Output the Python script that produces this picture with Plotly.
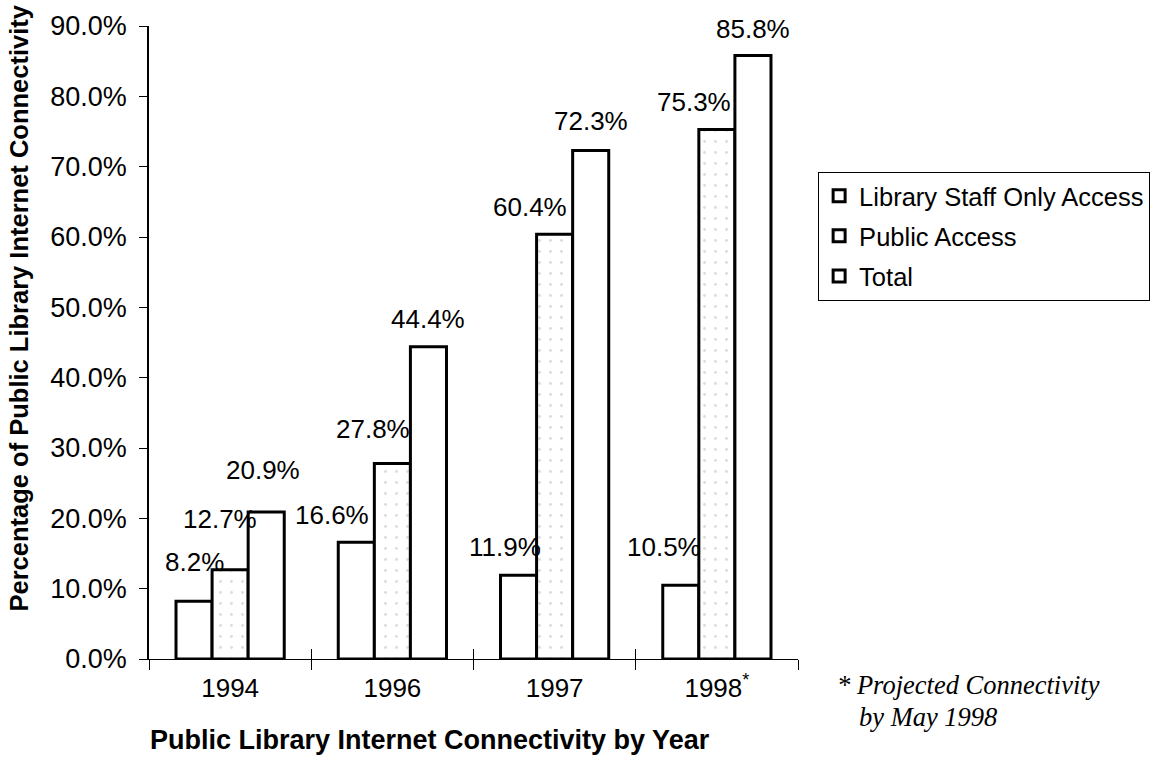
import plotly.graph_objects as go

years = ["1994", "1996", "1997", "1998<sup>*</sup>"]
staff_only = [8.2, 16.6, 11.9, 10.5]
public_access = [12.7, 27.8, 60.4, 75.3]
total = [20.9, 44.4, 72.3, 85.8]
series_names = ["Library Staff Only Access", "Public Access", "Total"]
y_ticks = [0, 10, 20, 30, 40, 50, 60, 70, 80, 90]

# label placement tweaks (pixels): horizontal shift and height above bar top
label_dx = [[0, -24, -14, -17], [-10, -19, -25, -23], [-3, 0, 0, 0]]
label_dy = [[39, 27, 28, 38], [51, 34, 27, 27], [42, 28, 29, 27]]

FONT = "Liberation Sans, Arial, sans-serif"
SERIF = "Liberation Serif, Times New Roman, serif"
BARGAP = 0.333

fig = go.Figure()
series = [staff_only, public_access, total]
for i, (name, vals) in enumerate(zip(series_names, series)):
    marker = dict(color="white", line=dict(color="black", width=3))
    if i == 1:
        marker["pattern"] = dict(shape=".", fgcolor="#b5b5b5", bgcolor="white",
                                 size=11, solidity=0.05, fillmode="overlay")
    fig.add_trace(go.Bar(x=years, y=vals, name=name, marker=marker,
                         legendgroup=f"g{i}", hoverinfo="skip"))

# invisible helper trace for crossing category ticks
fig.add_trace(go.Scatter(x=years, y=[0] * len(years), xaxis="x2", mode="markers",
                         marker=dict(opacity=0), showlegend=False, hoverinfo="skip"))

w = (1 - BARGAP) / 3
annotations = []
for i, vals in enumerate(series):
    for j, v in enumerate(vals):
        annotations.append(dict(
            x=j + (i - 1) * w, y=v, xref="x", yref="y",
            text=f"{v:.1f}%", showarrow=False,
            xanchor="center", yanchor="middle",
            xshift=label_dx[i][j], yshift=label_dy[i][j],
            font=dict(family=FONT, size=26, color="black")))

# y-axis title
annotations.append(dict(
    x=0, y=0.5, xref="paper", yref="paper", xshift=-131, yshift=34,
    text="<b>Percentage of Public Library Internet Connectivity</b>",
    textangle=-90, showarrow=False, xanchor="center", yanchor="middle",
    font=dict(family=FONT, size=25.5, color="black")))

# x-axis title
annotations.append(dict(
    x=0.433, y=0, xref="paper", yref="paper", yshift=-81,
    text="<b>Public Library Internet Connectivity by Year</b>",
    showarrow=False, xanchor="center", yanchor="middle",
    font=dict(family=FONT, size=27, color="black")))

# footnote
annotations.append(dict(
    x=1, y=0, xref="paper", yref="paper", xshift=37, yshift=-26,
    text="<i>* Projected Connectivity</i>", showarrow=False,
    xanchor="left", yanchor="middle",
    font=dict(family=SERIF, size=26.5, color="black")))
annotations.append(dict(
    x=1, y=0, xref="paper", yref="paper", xshift=59, yshift=-58,
    text="<i>by May 1998</i>", showarrow=False,
    xanchor="left", yanchor="middle",
    font=dict(family=SERIF, size=26.5, color="black")))

fig.update_layout(
    width=1155, height=760,
    margin=dict(l=149, r=357, t=26, b=101, autoexpand=False),
    paper_bgcolor="white", plot_bgcolor="white",
    barmode="group", bargap=BARGAP, bargroupgap=0,
    font=dict(family=FONT, size=25, color="black"),
    showlegend=True,
    legend=dict(x=1.031, y=0.77, xanchor="left", yanchor="top",
                bgcolor="white", bordercolor="black", borderwidth=1,
                tracegroupgap=4,
                font=dict(family=FONT, size=25.5, color="black"),
                itemclick=False, itemdoubleclick=False),
    xaxis=dict(
        type="category", categoryorder="array", categoryarray=years,
        showline=True, linecolor="black", linewidth=1,
        ticks="outside", ticklen=10, tickcolor="black", tickwidth=1,
        tickson="boundaries", ticklabelstandoff=6,
        tickfont=dict(family=FONT, size=26, color="black"),
        showgrid=False, zeroline=False, fixedrange=True),
    xaxis2=dict(
        type="category", categoryorder="array", categoryarray=years,
        overlaying="x", matches="x", anchor="y", side="bottom",
        ticks="inside", ticklen=10, tickcolor="black", tickwidth=1,
        tickson="boundaries", showticklabels=False, showline=False,
        showgrid=False, zeroline=False, fixedrange=True),
    yaxis=dict(
        range=[0, 90], tickvals=y_ticks,
        ticktext=[f"{t:.1f}%" for t in y_ticks],
        showline=True, linecolor="black", linewidth=1.5,
        ticks="outside", ticklen=8, tickcolor="black", tickwidth=1,
        ticklabelstandoff=7,
        tickfont=dict(family=FONT, size=27, color="black"),
        showgrid=False, zeroline=False, fixedrange=True),
    annotations=annotations,
)

fig.write_html("out.html", config={"displayModeBar": False})
